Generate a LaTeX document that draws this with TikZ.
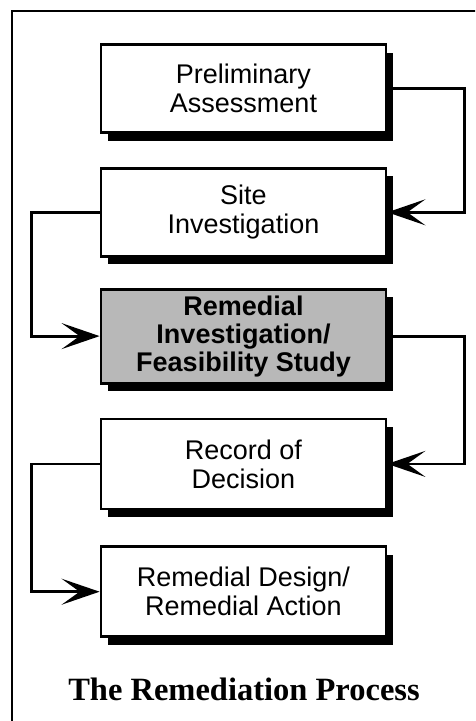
\documentclass[tikz,border=0pt]{standalone}
\usepackage{fontspec}
\setmainfont{Liberation Sans}
\newfontfamily\titlefont{Liberation Serif}
\usetikzlibrary{positioning,shadows,arrows.meta}

\begin{document}
\begin{tikzpicture}[x=1pt,y=-1pt]
\tikzstyle{stage} = [rectangle, minimum width=285pt, minimum height=88pt, text centered, align=center, draw=black, line width=2.8pt, fill=white, font=\fontsize{27}{29}\selectfont, drop shadow={shadow xshift=7pt, shadow yshift=-8pt, fill=black, opacity=1}]
\tikzstyle{current} = [stage, fill=black!28, minimum height=94pt, font=\fontsize{27}{28}\selectfont\bfseries]
\tikzstyle{arrow} = [line width=2.8pt, -{Stealth[length=38pt, width=26pt, inset=18pt]}]

\clip (0,0) rectangle (475,721);
% outer frame, cut off at right and bottom
\draw[line width=2.4pt] (12,740) -- (12,11) -- (490,11);

\node (pa) [stage] at (243.5,88.5) {Preliminary\\Assessment};
\node (si) [stage, below=33pt of pa] {Site\\Investigation};
\node (rifs) [current, below=30pt of si] {Remedial\\Investigation/\\Feasibility Study};
\node (rod) [stage, below=33pt of rifs, minimum height=90pt] {Record of\\Decision};
\node (rdra) [stage, below=35pt of rod, minimum height=90pt] {Remedial Design/\\Remedial Action};

\node (title) [anchor=base, font=\titlefont\bfseries\fontsize{32.5}{34}\selectfont] at (244,700) {The Remediation Process};

\draw [arrow] (pa.east) -- ++(77,0) |- (si.east);
\draw [arrow] (si.west) -- ++(-68,0) |- (rifs.west);
\draw [arrow] (rifs.east) -- ++(77,0) |- (rod.east);
\draw [arrow] (rod.west) -- ++(-68,0) |- (rdra.west);
\end{tikzpicture}
\end{document}
